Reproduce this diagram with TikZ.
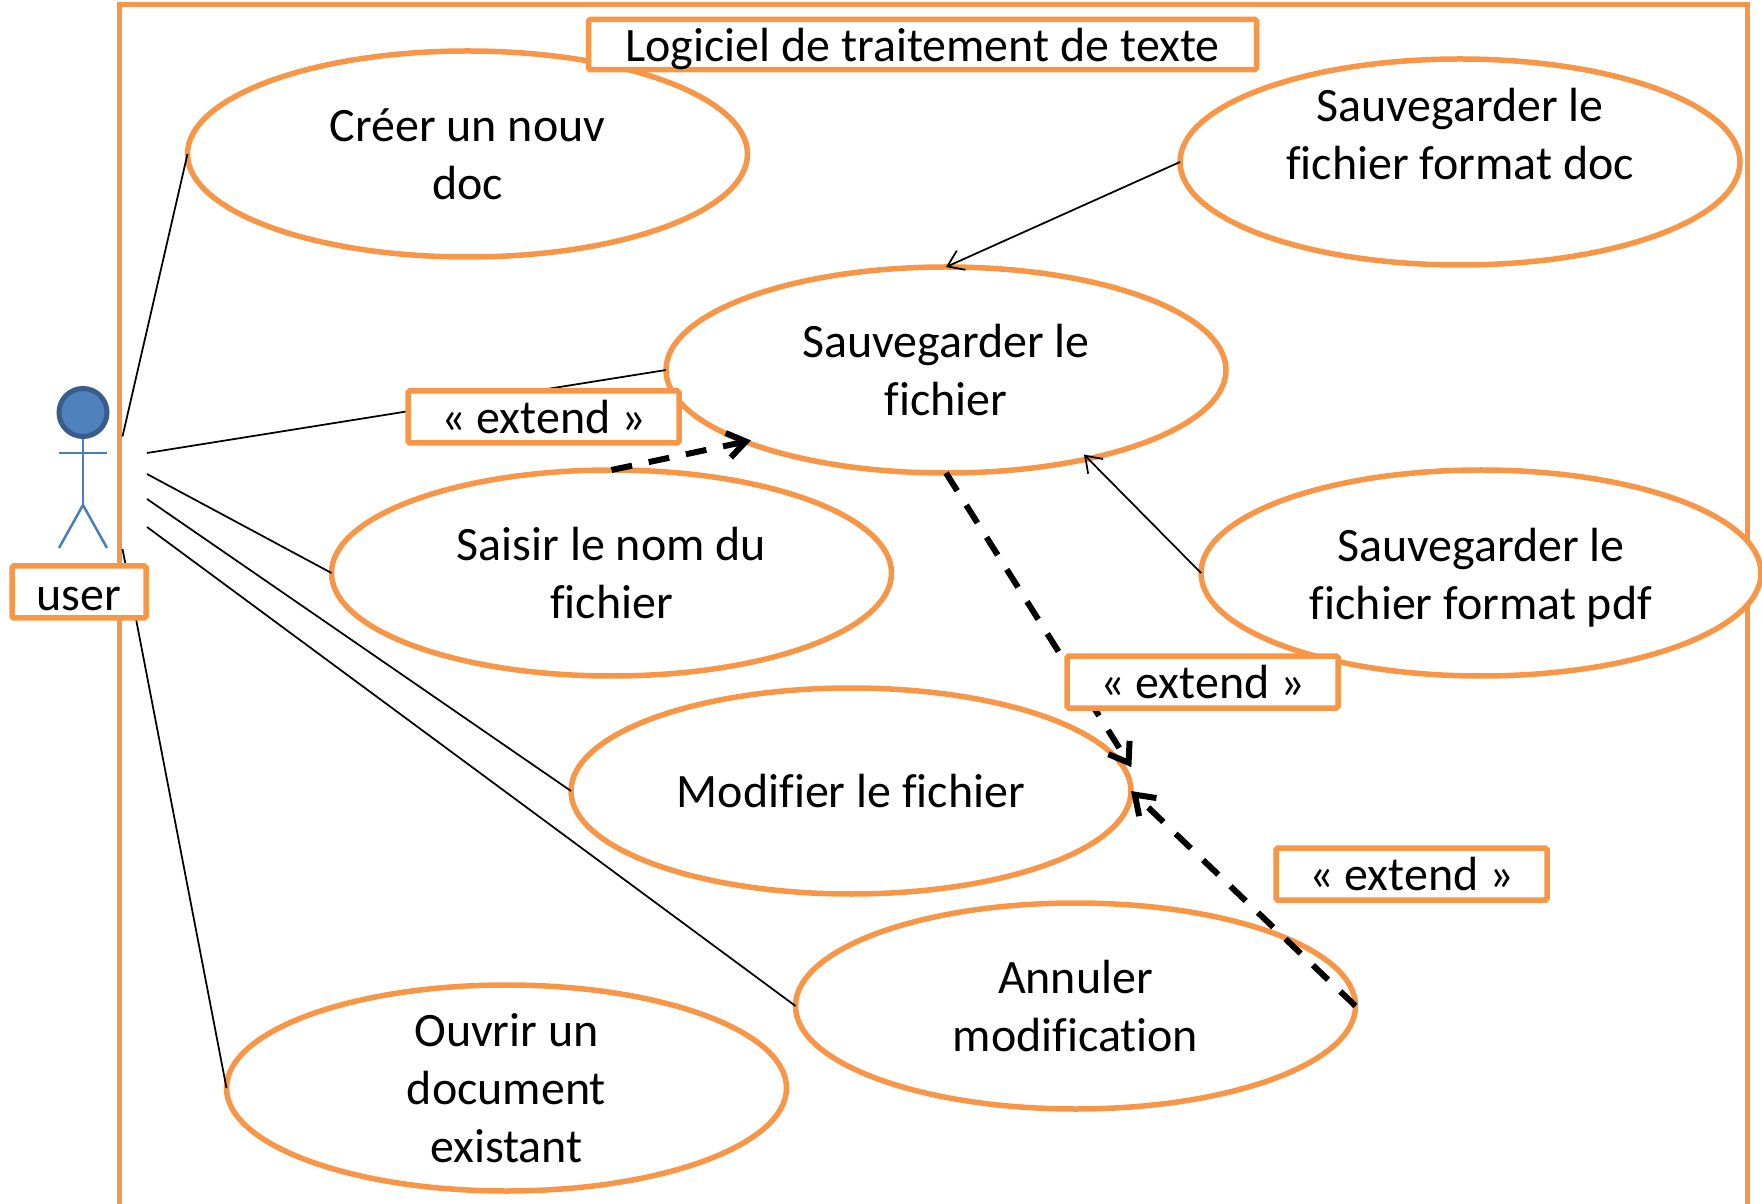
\documentclass[tikz,border=0pt]{standalone}
\usepackage{fontspec}
\setmainfont[Ligatures=NoCommon]{Carlito}
\usetikzlibrary{
    shapes.geometric,
    arrows.meta
}
\definecolor{caseorange}{RGB}{247, 150, 70}
\definecolor{actorblue}{RGB}{74, 126, 187}
\definecolor{headblue}{RGB}{79, 129, 189}
\definecolor{headedge}{RGB}{56, 93, 138}

\begin{document}
\begin{tikzpicture}[
        usecase/.style={ellipse, draw=caseorange, line width=0.11cm, fill=white, outer sep=0pt, minimum width=11.2cm, minimum height=4.12cm, inner xsep=0pt, inner ysep=-1cm, align=center, font=\fontsize{27.3}{33}\selectfont},
        tag/.style={rectangle, draw=caseorange, line width=0.11cm, rounded corners=1pt, fill=white, minimum width=5.42cm, minimum height=1.04cm, inner sep=0pt, align=center, font=\fontsize{27.3}{33}\selectfont},
        limb/.style={draw=actorblue, line width=0.05cm},
        assoc/.style={line width=0.035cm},
        gen/.style={-{Straight Barb[length=0.3cm, width=0.42cm]}, line width=0.035cm},
        extarrow/.style={-{Straight Barb[length=0.36cm, width=0.5cm]}, line width=0.12cm, dash pattern=on 0.42cm off 0.34cm}
    ]
        \useasboundingbox (0,0) rectangle (35.24,24.06);

        % System frame (runs off the bottom of the page)
        \node[rectangle, draw=caseorange, line width=0.11cm, minimum width=32.56cm, minimum height=24.2cm] (frame) at (18.67,11.87) {};

        % Actor
        \node[circle, draw=headedge, fill=headblue, line width=0.1cm, minimum size=0.96cm, inner sep=0pt] (head) at (1.66,15.81) {};
        \coordinate (hip) at (1.66,13.96);
        \coordinate (arml) at (1.18,15.0);
        \coordinate (armr) at (2.14,15.0);
        \coordinate (footl) at (1.18,13.10);
        \coordinate (footr) at (2.14,13.10);
        \draw[limb] (head) -- (hip);
        \draw[limb] (arml) -- (armr);
        \draw[limb] (footl) -- (hip) -- (footr);

        % Free ends of the lines near the actor
        \coordinate (ua) at (2.45,15.33);
        \coordinate (ub) at (2.94,15.0);
        \coordinate (uc) at (2.94,14.58);
        \coordinate (ud) at (2.94,14.08);
        \coordinate (ue) at (2.94,13.52);
        \coordinate (uf) at (2.45,13.08);

        % Use cases
        \node[usecase] (creer) at (9.35,20.98) {Créer un nouv\\doc};
        \node[usecase, text depth=32pt] (fdoc) at (29.2,20.82) {Sauvegarder le\\fichier format doc};
        \node[usecase] (save) at (18.92,16.66) {Sauvegarder le\\fichier};
        \node[usecase, text height=57pt] (fpdf) at (29.62,12.6) {Sauvegarder le\\fichier format pdf};
        \node[usecase] (saisir) at (12.23,12.6) {Saisir le nom du\\fichier};
        \node[usecase] (modif) at (17.02,8.24) {Modifier le fichier};
        \node[usecase] (annul) at (21.51,3.94) {Annuler\\modification};
        \node[usecase] (ouvrir) at (10.13,2.30) {Ouvrir un\\document\\existant};

        % Lines from the actor
        \draw[assoc] (ua) -- (creer.west);
        \draw[assoc] (ub) -- (save.west);
        \draw[assoc] (uc) -- (saisir.west);
        \draw[assoc] (ud) -- (modif.west);
        \draw[assoc] (ue) -- (annul.west);
        \draw[assoc] (uf) -- (ouvrir.west);

        % Arrows between use cases
        \draw[gen] (fdoc.west) -- (save.north);
        \draw[gen] (fpdf.west) -- ([yshift=0.1cm]save.-33);
        \draw[extarrow] (saisir.north) -- ([xshift=0.08cm,yshift=0.04cm]save.200);
        \draw[extarrow] (save.south) -- ([xshift=0.16cm]modif.5);
        \draw[extarrow] (annul.east) -- (modif.east);

        % Labels on top
        \node[tag, minimum width=13.36cm, minimum height=0.95cm, text height=24pt] (title) at (18.45,23.17) {Logiciel de traitement de texte};
        \node[tag, minimum width=2.68cm, text height=21pt] (user) at (1.58,12.22) {user};
        \node[tag] (ext_save) at (10.87,15.72) {« extend »};
        \node[tag] (ext_modif) at (24.05,10.42) {« extend »};
        \node[tag] (ext_annul) at (28.23,6.58) {« extend »};
    \end{tikzpicture}
\end{document}
